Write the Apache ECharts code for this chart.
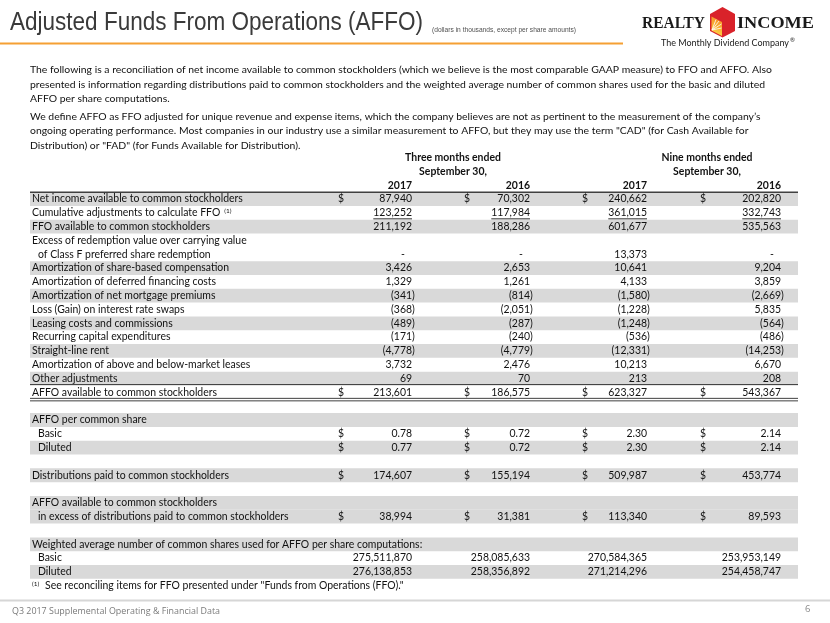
<!DOCTYPE html>
<html><head><meta charset="utf-8">
<script src="https://cdn.jsdelivr.net/npm/echarts@6/dist/echarts.min.js"></script>
<style>html,body{margin:0;padding:0;background:#fff}#c{width:830px;height:623px}</style>
</head><body><div id="c"></div>
<script>
// ---------------- DATA ----------------
const pageTitle = 'Adjusted Funds From Operations (AFFO)';
const pageSubtitle = '(dollars in thousands, except per share amounts)';
const paragraphLines = [
  'The following is a reconciliation of net income available to common stockholders (which we believe is the most comparable GAAP measure) to FFO and AFFO. Also',
  'presented is information regarding distributions paid to common stockholders and the weighted average number of common shares used for the basic and diluted',
  'AFFO per share computations.',
  'We define AFFO as FFO adjusted for unique revenue and expense items, which the company believes are not as pertinent to the measurement of the company\u2019s',
  'ongoing operating performance. Most companies in our industry use a similar measurement to AFFO, but they may use the term "CAD" (for Cash Available for',
  'Distribution) or "FAD" (for Funds Available for Distribution).'
];
const periodTitles = ['Three months ended', 'Nine months ended'];
const periodSubtitles = ['September 30,', 'September 30,'];
const yearLabels = ['2017', '2016', '2017', '2016'];
const rowLabels = [
  'Net income available to common stockholders',
  'Cumulative adjustments to calculate FFO',
  'FFO available to common stockholders',
  'Excess of redemption value over carrying value',
  'of Class F preferred share redemption',
  'Amortization of share-based compensation',
  'Amortization of deferred financing costs',
  'Amortization of net mortgage premiums',
  'Loss (Gain) on interest rate swaps',
  'Leasing costs and commissions',
  'Recurring capital expenditures',
  'Straight-line rent',
  'Amortization of above and below-market leases',
  'Other adjustments',
  'AFFO available to common stockholders',
  '',
  'AFFO per common share',
  'Basic',
  'Diluted',
  '',
  'Distributions paid to common stockholders',
  '',
  'AFFO available to common stockholders',
  'in excess of distributions paid to common stockholders',
  '',
  'Weighted average number of common shares used for AFFO per share computations:',
  'Basic',
  'Diluted'
];
const q3_2017 = [87940, 123252, 211192, null, '-', 3426, 1329, -341, -368, -489, -171, -4778, 3732, 69, 213601, null, null, 0.78, 0.77, null, 174607, null, null, 38994, null, null, 275511870, 276138853];
const q3_2016 = [70302, 117984, 188286, null, '-', 2653, 1261, -814, -2051, -287, -240, -4779, 2476, 70, 186575, null, null, 0.72, 0.72, null, 155194, null, null, 31381, null, null, 258085633, 258356892];
const ytd_2017 = [240662, 361015, 601677, null, 13373, 10641, 4133, -1580, -1228, -1248, -536, -12331, 10213, 213, 623327, null, null, 2.30, 2.30, null, 509987, null, null, 113340, null, null, 270584365, 271214296];
const ytd_2016 = [202820, 332743, 535563, null, '-', 9204, 3859, -2669, 5835, -564, -486, -14253, 6670, 208, 543367, null, null, 2.14, 2.14, null, 453774, null, null, 89593, null, null, 253953149, 254458747];
const footnoteMark = '(1)';
const footnoteText = 'See reconciling items for FFO presented under "Funds from Operations (FFO)."';
const footerText = 'Q3 2017 Supplemental Operating & Financial Data';
const pageNumber = '6';
const logoWords = ['REALTY', 'INCOME'];
const logoTagline = 'The Monthly Dividend Company';

// ---------------- STYLE / LAYOUT ----------------
const valueCols = [q3_2017, q3_2016, ytd_2017, ytd_2016];
const dollarRows = [0, 14, 17, 18, 20, 23];
const shadedRows = [0, 2, 5, 7, 9, 11, 13, 16, 18, 20, 22, 23, 25, 27];
const indentRows = [4, 17, 18, 23, 26, 27];
const epsRows = [17, 18];
const HEAD = 3;
const axisRows = ['h1', 'h2', 'yr'].concat(rowLabels.map((_, i) => 'r' + i)).concat(['fn']);
const colRight = [412, 530, 647, 781];
const colDollar = [338, 464, 582, 700];
const periodCenter = [453, 707];
const tableLeft = 30, tableRight = 798, labelX = 32, indentX = 38;
const INK = '#111111';

const mctx = document.createElement('canvas').getContext('2d');
function tw(str, font) { mctx.font = font; return mctx.measureText(str).width; }
function fitSize(str, fam, weight, target) { return 12 * target / tw(str, weight + ' 12px ' + fam); }

const BODY = 'Lato';
const bodySize = fitSize(rowLabels[0], BODY, 'normal', 211);
const paraSize = fitSize(paragraphLines[0], BODY, 'normal', 743);
const bodyFont = bodySize.toFixed(2) + 'px ' + BODY;
const boldFont = 'bold ' + bodySize.toFixed(2) + 'px ' + BODY;
const paraFont = paraSize.toFixed(2) + 'px ' + BODY;
const smallFont = (bodySize * 0.62).toFixed(2) + 'px ' + BODY;

function fmt(v, r) {
  if (v === null || v === undefined) return null;
  if (v === '-') return '-';
  const s = epsRows.includes(r) ? Math.abs(v).toFixed(2) : Math.abs(v).toLocaleString('en-US');
  return v < 0 ? '(' + s + ')' : s;
}

function txt(text, x, y, font, align, fill) {
  return { type: 'text', style: { text, x, y, font, align, textAlign: align, verticalAlign: 'middle', textVerticalAlign: 'middle', fill: fill || INK } };
}
function seg(x1, y1, x2, y2, stroke, lw) {
  return { type: 'line', shape: { x1, y1, x2, y2 }, style: { stroke, lineWidth: lw } };
}

function bandRender(params, api) {
  const i = api.value(1);
  const c0 = api.coord([tableLeft, i]);
  const c1 = api.coord([tableRight, i]);
  const h = api.size([0, 1])[1];
  return { type: 'rect', shape: { x: c0[0], y: c0[1] - h / 2, width: c1[0] - c0[0], height: h }, style: { fill: '#d9d9d9' } };
}

function rowRender(params, api) {
  const i = api.value(1);
  const y = api.coord([0, i])[1];
  const h = api.size([0, 1])[1];
  const X = v => api.coord([v, i])[0];
  const ch = [];
  if (i === 0) {
    periodTitles.forEach((t, k) => ch.push(txt(t, X(periodCenter[k]), y, boldFont, 'center')));
  } else if (i === 1) {
    periodSubtitles.forEach((t, k) => ch.push(txt(t, X(periodCenter[k]), y, boldFont, 'center')));
  } else if (i === 2) {
    yearLabels.forEach((t, k) => ch.push(txt(t, X(colRight[k]), y, boldFont, 'right')));
    ch.push(seg(X(tableLeft), y + h / 2, X(tableRight), y + h / 2, '#404040', 1.5));
  } else if (i === axisRows.length - 1) {
    ch.push(txt(footnoteMark, X(labelX), y - 1.5, smallFont, 'left'));
    ch.push(txt(footnoteText, X(labelX + 13), y, bodyFont, 'left'));
  } else {
    const r = i - HEAD;
    const lx = indentRows.includes(r) ? indentX : labelX;
    if (rowLabels[r]) ch.push(txt(rowLabels[r], X(lx), y, bodyFont, 'left'));
    if (r === 1) {
      const w = tw(rowLabels[r], bodyFont);
      ch.push(txt(footnoteMark, X(lx) + w + 4, y - 2, smallFont, 'left'));
    }
    const parenW = tw(')', bodyFont);
    valueCols.forEach((col, k) => {
      const s = fmt(col[r], r);
      if (s === null) return;
      if (dollarRows.includes(r)) ch.push(txt('$', X(colDollar[k]), y, bodyFont, 'left'));
      let xr = X(colRight[k]);
      if (s === '-') xr -= 7;
      else if (s.charAt(0) === '(') xr += parenW;
      ch.push(txt(s, xr, y, bodyFont, 'right'));
      if (r === 1) {
        const w = tw(s, bodyFont);
        ch.push(seg(xr - w, y + 6, xr, y + 6, '#303030', 1));
      }
    });
    if (r === 13) ch.push(seg(X(tableLeft), y + 6, X(tableRight), y + 6, '#404040', 1));
    if (r === 14) {
      ch.push(seg(X(tableLeft), y + 6, X(tableRight), y + 6, '#404040', 1));
      ch.push(seg(X(tableLeft), y + 8.5, X(tableRight), y + 8.5, '#404040', 1));
    }
  }
  return { type: 'group', children: ch };
}

// header graphics
const titleFont = '26px "Liberation Sans"';
const titleScale = 413 / tw(pageTitle, titleFont);
const subFont = '8px "Liberation Sans"';
const subScale = 144 / tw(pageSubtitle, subFont);
const logoFont = 'bold 16px "Liberation Serif"';
const tagFont = '9.5px ' + BODY;
const tagScale = 128 / tw(logoTagline, tagFont);
const footFont = '9.5px "Open Sans"';
const footScale = 208 / tw(footerText, footFont);

function gtext(text, x, y, font, fill, scaleX, align) {
  return { type: 'text', x, y, scaleX: scaleX || 1, silent: true,
    style: { text, font, fill, align: align || 'left', textAlign: align || 'left', verticalAlign: 'middle', textVerticalAlign: 'middle' } };
}

const graphics = [
  gtext(pageTitle, 10, 22.5, titleFont, '#3a3a3a', titleScale),
  gtext(pageSubtitle, 432, 30, subFont, '#505050', subScale),
  { type: 'line', shape: { x1: 0, y1: 43.5, x2: 623, y2: 43.5 }, style: { stroke: '#f5a033', lineWidth: 2 }, silent: true },
  gtext(logoWords[0], 642, 23.5, logoFont, '#1a1a1a', 63 / tw(logoWords[0], logoFont)),
  gtext(logoWords[1], 737, 23.5, logoFont, '#1a1a1a', 77 / tw(logoWords[1], logoFont)),
  { type: 'polygon', shape: { points: [[722.5, 7], [735, 14], [735, 31], [722.5, 37.5], [710, 31], [710, 14]] }, style: { fill: '#d9222a' }, silent: true },
  { type: 'polygon', shape: { points: [[711.5, 16.5], [722, 22], [722, 36], [711.5, 30.5]] },
    style: { fill: new echarts.graphic.LinearGradient(0, 1, 1, 0, [{ offset: 0, color: '#fde047' }, { offset: 1, color: '#f58220' }]) }, silent: true },
  { type: 'line', shape: { x1: 712, y1: 30, x2: 721.5, y2: 24 }, style: { stroke: '#fff', lineWidth: 0.8 }, silent: true },
  { type: 'line', shape: { x1: 712, y1: 30, x2: 721.5, y2: 28 }, style: { stroke: '#fff', lineWidth: 0.8 }, silent: true },
  { type: 'line', shape: { x1: 712, y1: 30, x2: 716, y2: 19.5 }, style: { stroke: '#fff', lineWidth: 0.8 }, silent: true },
  { type: 'line', shape: { x1: 712, y1: 30, x2: 719, y2: 21 }, style: { stroke: '#fff', lineWidth: 0.8 }, silent: true },
  gtext(logoTagline, 661, 43, tagFont, '#1a1a1a', tagScale),
  gtext('\u00ae', 790, 40, '6px ' + BODY, '#1a1a1a'),
  { type: 'line', shape: { x1: 0, y1: 600.5, x2: 830, y2: 600.5 }, style: { stroke: '#d6d6d6', lineWidth: 2 }, silent: true },
  gtext(footerText, 12, 611, footFont, '#7a7a7a', footScale),
  gtext(pageNumber, 805, 609.5, footFont, '#8a8a8a')
];
const paraY = [70, 84.5, 99, 116.5, 131, 145.5];
paragraphLines.forEach((l, k) => graphics.push(gtext(l, 30, paraY[k], paraFont, INK)));

const P = 13.81;
const gridTop = 157.6 - P / 2;
const gridBottom = 623 - gridTop - P * axisRows.length;

const chart = echarts.init(document.getElementById('c'), null, { renderer: 'canvas', width: 830, height: 623 });
chart.setOption({
  animation: false,
  backgroundColor: '#ffffff',
  grid: { left: 0, right: 0, top: gridTop, bottom: gridBottom },
  xAxis: { type: 'value', min: 0, max: 830, show: false },
  yAxis: { type: 'category', data: axisRows, inverse: true, show: false },
  series: [
    { type: 'custom', z: 1, silent: true, data: shadedRows.map(r => [0, r + HEAD]), encode: { x: 0, y: 1 }, renderItem: bandRender },
    { type: 'custom', z: 2, silent: true, data: axisRows.map((k, i) => [0, i]), encode: { x: 0, y: 1 }, renderItem: rowRender }
  ],
  graphic: { elements: graphics }
});
</script></body></html>
